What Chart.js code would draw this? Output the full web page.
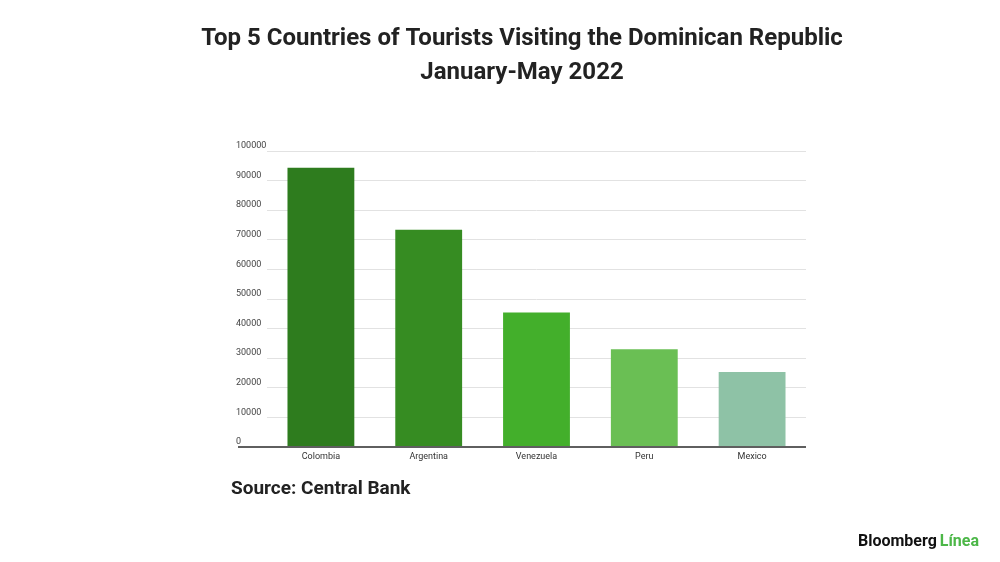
<!DOCTYPE html>
<html>
<head>
<meta charset="utf-8">
<script src="https://cdn.jsdelivr.net/npm/chart.js@4.4.0/dist/chart.umd.min.js"></script>
<style>
html,body{margin:0;padding:0;background:#fff;}
#wrap{width:1000px;height:562px;position:relative;}
</style>
</head>
<body>
<div id="wrap"><canvas id="c" width="1000" height="562"></canvas></div>
<script>
const titleLines = ["Top 5 Countries of Tourists Visiting the Dominican Republic", "January-May 2022"];
const sourceText = "Source: Central Bank";
const categories = ["Colombia", "Argentina", "Venezuela", "Peru", "Mexico"];
const tourists = [94300, 73400, 45400, 33000, 25300];
const barColors = ["#2e7c1e", "#368c22", "#43af2b", "#6abf54", "#8ec2a6"];
const yTicks = [0, 10000, 20000, 30000, 40000, 50000, 60000, 70000, 80000, 90000, 100000];

const FONT = "Roboto, 'Noto Sans', sans-serif";

const decor = {
  id: 'decor',
  afterDraw(chart) {
    const ctx = chart.ctx;
    const y = chart.scales.y;
    const ca = chart.chartArea;
    ctx.save();
    // zero axis line
    const y0 = y.getPixelForValue(0);
    ctx.strokeStyle = '#5f5f5f';
    ctx.lineWidth = 2;
    ctx.beginPath();
    ctx.moveTo(238, y0);
    ctx.lineTo(ca.right, y0);
    ctx.stroke();
    // title
    ctx.fillStyle = '#222222';
    ctx.textAlign = 'center';
    ctx.textBaseline = 'middle';
    ctx.font = "bold 24px " + FONT;
    ctx.fillText(titleLines[0], 522, 39);
    ctx.fillText(titleLines[1], 522, 73);
    // source
    ctx.textAlign = 'left';
    ctx.font = "bold 19px " + FONT;
    ctx.fillText(sourceText, 231, 489);
    // logo
    ctx.font = "bold 16px " + FONT;
    ctx.fillStyle = '#111111';
    ctx.fillText("Bloomberg", 858, 542);
    const w = ctx.measureText("Bloomberg ").width;
    ctx.fillStyle = '#4cb748';
    ctx.fillText("Línea", 858 + w - 1, 542);
    ctx.restore();
  }
};

new Chart(document.getElementById('c'), {
  type: 'bar',
  data: {
    labels: categories,
    datasets: [{
      data: tourists,
      backgroundColor: barColors,
      borderWidth: 0,
      categoryPercentage: 1,
      barPercentage: 0.62
    }]
  },
  options: {
    responsive: false,
    animation: false,
    devicePixelRatio: 1,
    layout: { padding: { left: 236, right: 194, top: 151, bottom: 95 } },
    plugins: { legend: { display: false }, tooltip: { enabled: false }, title: { display: false } },
    scales: {
      x: {
        grid: { display: false, drawTicks: false },
        border: { display: false },
        ticks: { color: '#333', font: { family: FONT, size: 9 }, padding: 4 },
        afterFit(s) { s.height = 20; }
      },
      y: {
        min: 0, max: 100000,
        afterBuildTicks(s) { s.ticks = yTicks.map(v => ({ value: v })); },
        grid: { color: '#e2e2e2', lineWidth: 1, drawTicks: false },
        border: { display: false },
        ticks: {
          color: '#444', font: { family: FONT, size: 9 },
          crossAlign: 'far', padding: 0, labelOffset: -5,
          callback: (v) => String(v)
        },
        afterFit(s) { s.width = 31; }
      }
    }
  },
  plugins: [decor]
});
</script>
</body>
</html>
